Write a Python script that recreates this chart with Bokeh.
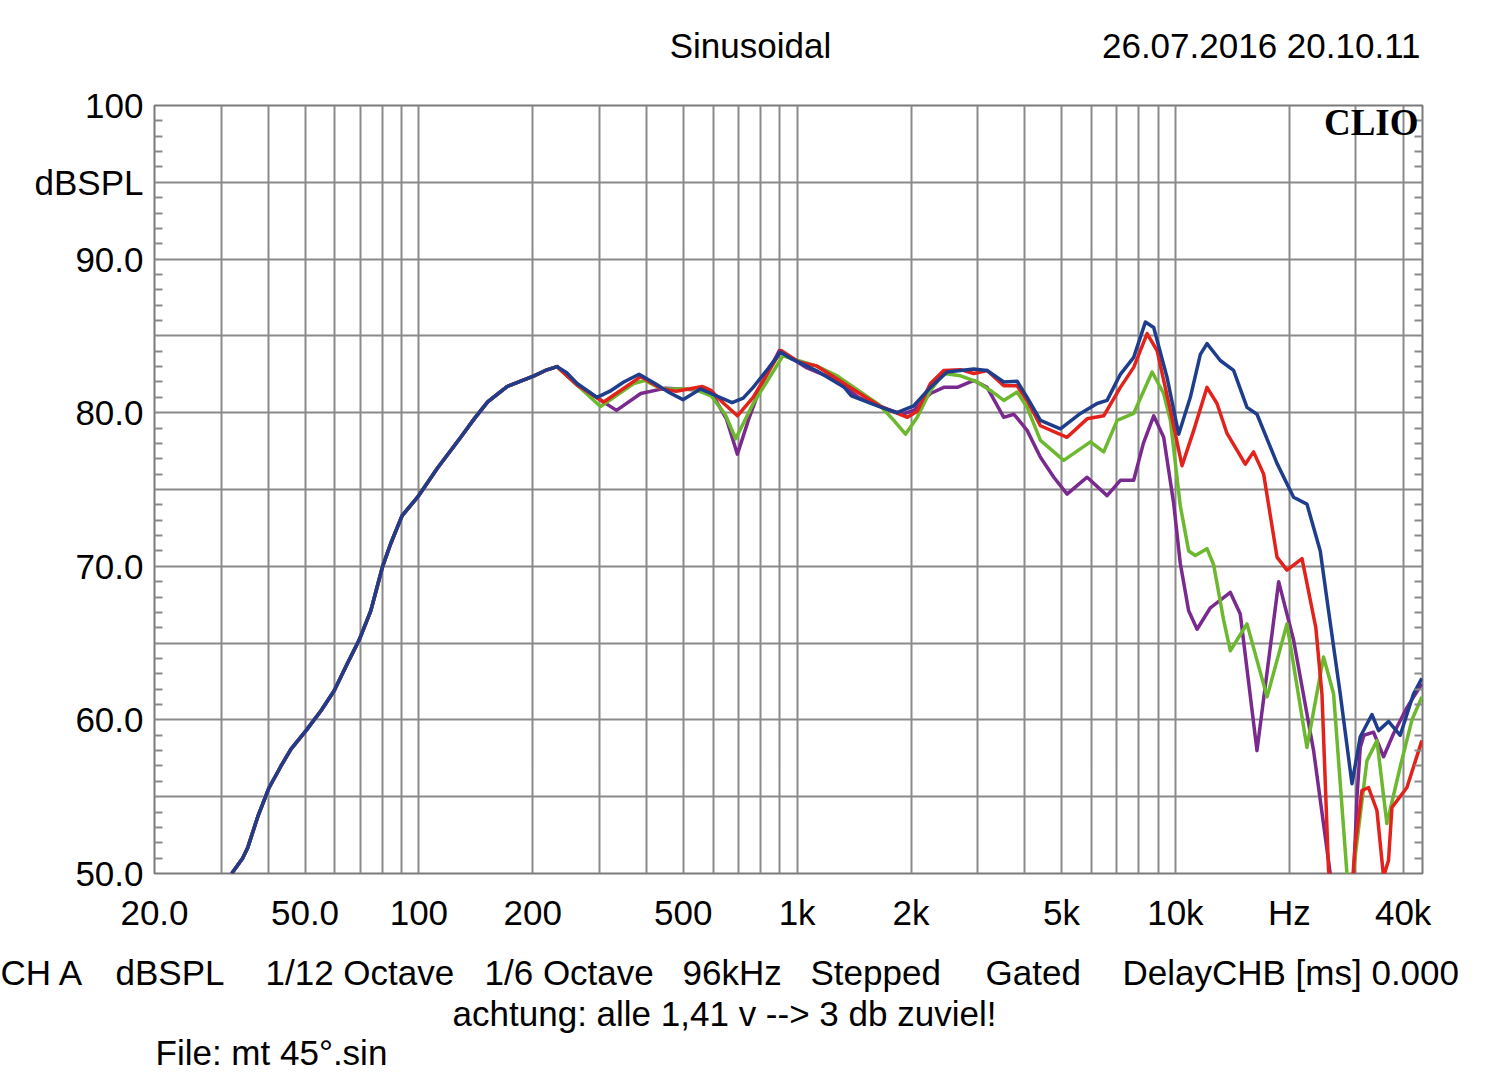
from bokeh.plotting import figure
from bokeh.models import FixedTicker, LinearAxis, Label
from bokeh.layouts import column
from bokeh.embed import file_html
from bokeh.resources import INLINE

# ---------------- data ----------------
x_ticks = [20, 50, 100, 200, 500, 1000, 2000, 5000, 10000, 20000, 40000]
x_tick_labels = ["20.0", "50.0", "100", "200", "500", "1k", "2k", "5k", "10k", "Hz", "40k"]
x_grid = [30, 40, 50, 60, 70, 80, 90, 100, 200, 300, 400, 500, 600, 700, 800, 900,
          1000, 2000, 3000, 4000, 5000, 6000, 7000, 8000, 9000, 10000, 20000, 30000, 40000]
y_ticks = [50, 60, 70, 80, 90, 95, 100]
y_tick_labels = ["50.0", "60.0", "70.0", "80.0", "90.0", "dBSPL", "100"]
y_grid = [50, 55, 60, 65, 70, 75, 80, 85, 90, 95, 100]
y_minor = [v for v in range(51, 100) if v % 5 != 0]

# common low-frequency part (all curves coincide)
freq_low = [32.0, 34.2, 35.3, 37.5, 40.2, 43.2, 45.9, 50.3, 55.1, 59.7, 64.8, 69.5, 74.6,
            80.2, 84.3, 90.3, 99.2, 112, 129, 140, 152, 171, 201.6, 216]
db_low = [50.0, 51.0, 51.7, 53.7, 55.6, 57.0, 58.1, 59.3, 60.6, 61.9, 63.7, 65.2, 67.1,
          70.0, 71.5, 73.3, 74.5, 76.4, 78.4, 79.6, 80.7, 81.7, 82.4, 82.75]

freq_blue = [232, 246, 262, 296, 320, 348, 382, 421, 460, 499, 555, 592, 673, 720, 765, 840,
             904, 967, 1123, 1332, 1391, 1650, 1835, 2034, 2251, 2491, 2931, 3178, 3518,
             3815, 4055, 4397, 4966, 5609, 6209, 6597, 7153, 7757, 8329, 8762, 9504, 10200,
             10950, 11640, 12120, 13140, 14250, 15460, 16430, 18560, 20530, 22270, 24150,
             25400, 27270, 29290, 30810, 33080, 34440, 36590, 39290, 42610, 44830]
db_blue = [83.0, 82.6, 81.9, 81.0, 81.4, 82.0, 82.5, 81.9, 81.3, 80.85, 81.55, 81.25, 80.65,
           80.95, 81.65, 82.9, 83.95, 83.5, 82.75, 81.65, 81.1, 80.4, 80.0, 80.45, 81.65,
           82.65, 82.85, 82.75, 82.0, 82.05, 81.0, 79.5, 78.95, 79.95, 80.6, 80.8, 82.5,
           83.6, 85.9, 85.55, 82.3, 78.6, 81.0, 83.8, 84.5, 83.4, 82.75, 80.35, 79.9, 76.7,
           74.5, 74.05, 71.0, 67.1, 61.7, 55.85, 58.9, 60.35, 59.3, 59.9, 59.0, 61.7, 62.7]

freq_red = [232, 262, 308, 386, 439, 479, 562, 592, 640, 695, 765, 907, 1010, 1123, 1276,
            1421, 1650, 1956, 2077, 2251, 2441, 2704, 2931, 3178, 3518, 3815, 4055, 4397,
            5172, 5842, 6463, 7153, 7757, 8416, 8943, 9697, 10410, 11180, 12120, 12880,
            13690, 15300, 16090, 17110, 18560, 19720, 21610, 23510, 24400, 25400, 26500,
            28200, 29500, 29880, 31130, 32400, 34100, 35500, 36590, 37360, 40930, 44830]
db_red = [83.0, 81.8, 80.7, 82.35, 81.55, 81.4, 81.7, 81.45, 80.6, 79.8, 81.0, 84.05, 83.3,
          83.05, 82.2, 81.45, 80.45, 79.7, 80.1, 81.9, 82.75, 82.8, 82.55, 82.75, 81.75,
          81.75, 80.8, 79.15, 78.4, 79.6, 79.8, 81.65, 82.95, 85.15, 84.05, 80.15, 76.55,
          78.85, 81.65, 80.6, 78.65, 76.65, 77.45, 76.0, 70.6, 69.75, 70.5, 66.0, 61.7,
          50.2, 47.5, 48.0, 50.0, 51.9, 55.4, 55.6, 54.1, 49.8, 50.85, 54.3, 55.6, 58.65]

freq_green = [232, 262, 302, 370, 395, 439, 532, 592, 645, 688, 765, 917, 1123, 1276, 1451,
              1650, 1801, 1934, 2077, 2251, 2441, 2704, 2991, 3242, 3518, 3815, 4055, 4397,
              5066, 5961, 6463, 7012, 7757, 8677, 9310, 9697, 10300, 10840, 11290, 12120,
              12620, 13410, 13970, 15460, 17470, 19720, 22270, 24640, 26190, 28410, 29200,
              30000, 32090, 34100, 36230, 39290, 42200, 44830]
db_green = [83.0, 81.8, 80.4, 81.9, 82.1, 81.55, 81.55, 81.1, 79.9, 78.3, 80.6, 83.7, 83.05,
            82.4, 81.45, 80.5, 79.5, 78.6, 79.7, 81.45, 82.55, 82.4, 82.0, 81.45, 80.8,
            81.35, 80.35, 78.2, 76.9, 78.1, 77.45, 79.5, 79.95, 82.65, 81.25, 79.5, 73.95,
            71.0, 70.7, 71.15, 70.1, 66.5, 64.5, 66.25, 61.5, 66.25, 58.2, 64.1, 61.7, 50.0,
            48.8, 51.5, 57.35, 58.65, 53.25, 56.95, 60.0, 61.5]

freq_purple = [232, 262, 333, 386, 449, 532, 592, 650, 695, 745, 799, 897, 1054, 1276,
               1451, 1720, 1895, 2034, 2251, 2441, 2651, 2931, 3178, 3518, 3741, 4055, 4397,
               4770, 5172, 5842, 6597, 7153, 7757, 8227, 8762, 9310, 9894, 10300, 10840,
               11410, 12370, 13970, 14840, 16430, 18750, 20530, 23190, 25660, 27000, 28500,
               29500, 30200, 30810, 31500, 33400, 35500, 37710, 40930, 44830]
db_purple = [83.0, 81.8, 80.15, 81.25, 81.6, 81.5, 81.35, 79.6, 77.3, 79.6, 81.65, 84.05,
             82.95, 82.1, 81.0, 80.25, 79.9, 80.15, 81.25, 81.65, 81.65, 82.1, 81.65, 79.7,
             79.9, 78.85, 77.1, 75.8, 74.7, 75.8, 74.6, 75.6, 75.6, 78.0, 79.8, 78.4, 74.1,
             70.2, 67.1, 65.9, 67.3, 68.3, 66.9, 58.0, 69.0, 65.2, 58.0, 50.0, 47.0, 47.5,
             49.0, 55.0, 58.2, 59.0, 59.2, 57.6, 59.1, 60.8, 62.35]

series = [
    ("purple", freq_purple, db_purple, "#7a2a8f"),
    ("green", freq_green, db_green, "#6cb82e"),
    ("red", freq_red, db_red, "#e3221c"),
    ("blue", freq_blue, db_blue, "#1f3d8d"),
]

header_texts = [("Sinusoidal", 750, "center"), ("26.07.2016 20.10.11", 1420, "right")]
footer_line1 = [(0, "CH A"), (115, "dBSPL"), (265, "1/12 Octave"), (484, "1/6 Octave"),
                (682, "96kHz"), (810, "Stepped"), (985, "Gated"), (1122, "DelayCHB [ms] 0.000")]
footer_line2 = "achtung: alle 1,41 v --> 3 db zuviel!"
footer_line3 = "File: mt 45°.sin"

# ---------------- styling ----------------
FONT = "Liberation Sans"
FS = "35px"
GRID = "#8a8a8a"
W = 1500
HEAD_H = 85
MAIN_H = 855
FOOT_H = 146


def no_align(fig):
    if "frame_align" in fig.properties():
        fig.frame_align = False


def blank(h):
    f = figure(width=W, height=h, x_range=(0, W), y_range=(0, h),
               x_axis_location=None, y_axis_location=None,
               output_backend="svg", toolbar_location=None,
               min_border=0, min_border_left=0, min_border_right=0,
               min_border_top=0, min_border_bottom=0)
    f.outline_line_color = None
    f.xgrid.visible = False
    f.ygrid.visible = False
    no_align(f)
    return f


def label(fig, x, y, text, align="left", size=FS, font=FONT, style="normal"):
    fig.add_layout(Label(x=x, y=y, x_units="screen", y_units="screen", text=text,
                         text_align=align, text_baseline="middle", text_font=font,
                         text_font_size=size, text_font_style=style,
                         text_color="black"))


# header
head = blank(HEAD_H)
for t, x, a in header_texts:
    label(head, x, HEAD_H - 45, t, align=a)

# main plot
p = figure(width=W, height=MAIN_H, x_axis_type="log", x_range=(20, 45000),
           y_range=(50, 100), output_backend="svg", toolbar_location=None,
           min_border_left=154, min_border_right=78, min_border_top=20,
           min_border_bottom=MAIN_H - 20 - 768)
no_align(p)
p.background_fill_color = "white"
p.border_fill_color = "white"
p.outline_line_color = "#7a7a7a"
p.outline_line_width = 2

p.xgrid.ticker = FixedTicker(ticks=x_grid)
p.ygrid.ticker = FixedTicker(ticks=y_grid)
for g in (p.xgrid, p.ygrid):
    g.grid_line_color = GRID
    g.grid_line_width = 2

xa = p.xaxis[0]
xa.ticker = FixedTicker(ticks=x_ticks, minor_ticks=[])
xa.major_label_overrides = {t: l for t, l in zip(x_ticks, x_tick_labels)}
ya = p.yaxis[0]
ya.ticker = FixedTicker(ticks=y_ticks, minor_ticks=y_minor)
ya.major_label_overrides = {t: l for t, l in zip(y_ticks, y_tick_labels)}

for ax in (xa, ya):
    ax.axis_line_color = None
    ax.major_tick_in = 0
    ax.major_tick_out = 0
    ax.minor_tick_out = 0
    ax.major_label_text_font = FONT
    ax.major_label_text_font_size = FS
    ax.major_label_text_color = "black"
xa.minor_tick_in = 0
xa.major_label_standoff = 19
ya.minor_tick_in = 8
ya.minor_tick_line_color = GRID
ya.minor_tick_line_width = 2
ya.major_label_standoff = 11

ra = LinearAxis(ticker=FixedTicker(ticks=y_ticks, minor_ticks=y_minor))
ra.axis_line_color = None
ra.major_tick_in = 0
ra.major_tick_out = 0
ra.minor_tick_in = 8
ra.minor_tick_out = 0
ra.minor_tick_line_color = GRID
ra.minor_tick_line_width = 2
ra.major_label_text_font_size = "0px"
ra.major_label_text_color = None
p.add_layout(ra, "right")

for name, f, d, c in series:
    p.line(freq_low + f, db_low + d, line_color=c, line_width=3.5, line_join="round")

# CLIO mark inside the frame (screen units relative to the frame)
label(p, 1418 - 154, 873 - 122, "CLIO", align="right", size="37px",
      font="Liberation Serif", style="bold")

# footer
foot = blank(FOOT_H)
top = 940
for x, t in footer_line1:
    label(foot, x, FOOT_H - (972 - top), t)
label(foot, 724, FOOT_H - (1013 - top), footer_line2, align="center")
label(foot, 155, FOOT_H - (1052 - top), footer_line3)

layout = column(head, p, foot, spacing=0)
open("out.html", "w").write(file_html(layout, INLINE))
